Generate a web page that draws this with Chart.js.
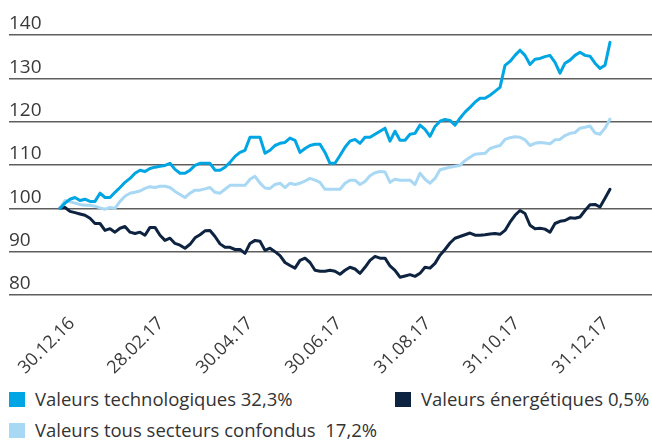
<!DOCTYPE html>
<html>
<head>
<meta charset="utf-8">
<script src="https://cdn.jsdelivr.net/npm/chart.js@4.4.1/dist/chart.umd.min.js"></script>
<style>
  html, body { margin: 0; padding: 0; background: #fff; }
  body { width: 652px; height: 441px; position: relative; overflow: hidden; font-family: "Open Sans", Lato, sans-serif; color: #333; }
  #wrap { position: absolute; left: 0; top: 0; width: 652px; height: 380px; }
  .legend-item { position: absolute; font-size: 18.5px; line-height: 20px; white-space: nowrap; }
  .legend-item i { position: absolute; left: 0; top: 3px; width: 16px; height: 15px; }
  .legend-item span { position: absolute; left: 26px; top: 0; }
</style>
</head>
<body>
<div id="wrap"><canvas id="chart" width="652" height="380"></canvas></div>
<div class="legend-item" style="left:9px; top:389px;"><i style="background:#00a6e3"></i><span>Valeurs technologiques 32,3%</span></div>
<div class="legend-item" style="left:395px; top:389px;"><i style="background:#0d2340"></i><span>Valeurs énergétiques 0,5%</span></div>
<div class="legend-item" style="left:9px; top:420px;"><i style="background:#a8d8f4"></i><span>Valeurs tous secteurs confondus&nbsp; 17,2%</span></div>
<script>
// x labels shown under the axis (evenly spaced every two months)
const dateLabels = ['30.12.16', '28.02.17', '30.04.17', '30.06.17', '31.08.17', '31.10.17', '31.12.17'];

// indexed to 100 on 30.12.16, one sample every few trading days
const techValues = [
  100, 101.2, 102.1, 102.5, 101.8, 102.1, 101.6, 101.6, 103.5, 102.5,
  102.5, 103.7, 104.8, 106, 106.9, 108.1, 108.8, 108.5, 109.2, 109.5,
  109.7, 109.9, 110.4, 109, 108.1, 108.1, 108.8, 109.9, 110.4, 110.4,
  110.4, 108.8, 108.8, 109.5, 110.6, 112, 112.9, 113.4, 116.4, 116.4,
  116.4, 112.7, 113.4, 114.5, 115, 115.2, 116.2, 115.7, 112.9, 113.8,
  114.5, 114.8, 114.8, 112.9, 110.4, 110.4, 112.2, 114.1, 115.5, 115.9,
  115, 116.4, 116.4, 117.1, 117.8, 118.5, 115.5, 117.8, 115.7, 115.7,
  117.1, 117.3, 119.2, 118.2, 116.6, 118.9, 120.1, 120.5, 120.3, 119.2,
  120.8, 122.2, 123.3, 124.5, 125.4, 125.4, 126.1, 127, 127.9, 133,
  133.9, 135.3, 136.5, 135.3, 133.2, 134.4, 134.6, 135, 135.3, 133.7,
  131.2, 133.5, 134.2, 135.3, 136, 135.3, 135.1, 133.5, 132.3, 133,
  138.3
];

const energyValues = [
  100, 100.2, 99.3, 99, 98.7, 98.4, 97.7, 96.5, 96.5, 94.9,
  95.3, 94.5, 95.4, 95.8, 94.5, 94.2, 94.5, 93.8, 95.6, 95.6,
  93.8, 92.6, 93.1, 91.9, 91.5, 90.8, 91.7, 93.2, 93.9, 94.8,
  94.9, 93.5, 91.8, 91, 91, 90.5, 90.5, 89.6, 91.9, 92.6,
  92.4, 90.3, 90.8, 90, 89.1, 87.5, 86.8, 86.2, 88, 88.5,
  87.5, 85.7, 85.5, 85.5, 85.7, 85.5, 84.8, 85.7, 86.4, 86,
  85, 86.4, 88, 88.9, 88.5, 88.5, 86.7, 85.7, 84.1, 84.4,
  84.7, 84.3, 85, 86.4, 86.2, 87.3, 89.2, 90.5, 92, 93.1,
  93.5, 93.9, 94.3, 93.8, 93.8, 93.9, 94.1, 94.2, 94, 94.9,
  96.8, 98.4, 99.5, 98.8, 96.1, 95.3, 95.4, 95.2, 94.5, 96.5,
  97, 97.2, 97.8, 97.7, 98, 99.5, 100.8, 100.9, 100.3, 102.3,
  104.4
];

const allSectorsValues = [
  100, 101.8, 101.5, 101.2, 100.9, 100.7, 100.7, 100.5, 100.1, 99.8,
  100.2, 100, 101.6, 102.8, 103.5, 103.7, 104, 104.6, 105, 104.8,
  105.1, 105.1, 104.8, 103.9, 103.2, 102.5, 103.5, 104.2, 104.2, 104.5,
  104.8, 103.7, 103.5, 104.4, 105.3, 105.3, 105.3, 105.3, 106.7, 107.4,
  105.8, 104.7, 104.6, 105.5, 105.8, 104.8, 105.8, 105.5, 105.8, 106.3,
  106.9, 106.5, 106, 104.4, 104.4, 104.4, 104.4, 105.8, 106.5, 106.5,
  105.5, 106.2, 107.5, 108.2, 108.5, 108.4, 106, 106.7, 106.5, 106.5,
  106.5, 105.5, 108.1, 106.7, 105.8, 106.9, 108.9, 109.2, 109.5, 109.7,
  109.9, 111, 111.8, 112.5, 112.6, 112.7, 113.8, 114.2, 114.5, 115.9,
  116.3, 116.5, 116.4, 115.8, 114.5, 115, 115.2, 115.1, 114.9, 115.8,
  115.9, 116.8, 117.3, 117.5, 118.5, 118.7, 119, 117.4, 117.1, 118.5,
  120.6
];

const firstTick = 2.4;
const tickStep = 17.8;
const tickValues = dateLabels.map((_, i) => firstTick + i * tickStep);

const toPoints = (arr) => arr.map((v, i) => ({ x: i, y: v }));

const axisFont = { family: "'Open Sans', sans-serif", size: 18 };

const ctx = document.getElementById('chart').getContext('2d');
new Chart(ctx, {
  type: 'line',
  data: {
    datasets: [
      { label: 'Valeurs technologiques 32,3%', data: toPoints(techValues), borderColor: '#00a6e3' },
      { label: 'Valeurs énergétiques 0,5%', data: toPoints(energyValues), borderColor: '#0d2340' },
      { label: 'Valeurs tous secteurs confondus 17,2%', data: toPoints(allSectorsValues), borderColor: '#a8d8f4' },
    ],
  },
  options: {
    responsive: false,
    animation: false,
    devicePixelRatio: 1,
    layout: { padding: { left: 9, top: 35, right: 0, bottom: 0 } },
    elements: {
      line: { borderWidth: 3, tension: 0, borderJoinStyle: 'round', borderCapStyle: 'round' },
      point: { radius: 0 },
    },
    plugins: { legend: { display: false }, tooltip: { enabled: false } },
    scales: {
      x: {
        type: 'linear',
        min: -10.2,
        max: 118.4,
        grid: { display: false, drawTicks: false },
        border: { display: false },
        afterBuildTicks: (scale) => {
          scale.ticks = tickValues.map((v) => ({ value: v }));
        },
        afterFit: (scale) => { scale.height = 85; },
        ticks: {
          autoSkip: false,
          minRotation: 45,
          maxRotation: 45,
          padding: 18,
          color: '#3a3a3a',
          font: axisFont,
          callback: (value, index) => dateLabels[index],
        },
      },
      y: {
        min: 80,
        max: 140,
        grid: { color: '#5e5e5e', lineWidth: 1.4, drawTicks: false },
        border: { display: false },
        afterFit: (scale) => { scale.width = 0; },
        ticks: {
          stepSize: 10,
          mirror: true,
          padding: 0,
          labelOffset: -11,
          color: '#3a3a3a',
          font: { family: "'Open Sans', sans-serif", size: 19 },
        },
      },
    },
  },
});
</script>
</body>
</html>
